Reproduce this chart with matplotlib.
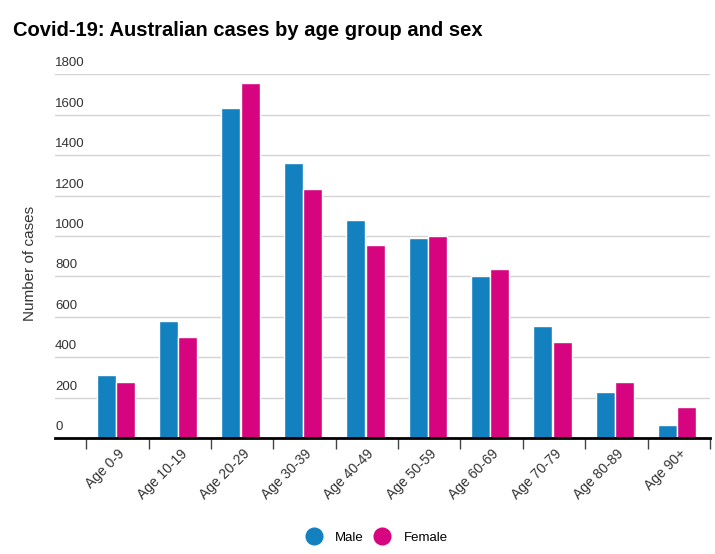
import matplotlib
matplotlib.use('Agg')
import matplotlib.pyplot as plt
import matplotlib.transforms as mtransforms
from matplotlib.lines import Line2D
import numpy as np

plt.rcParams['font.family'] = ['Liberation Sans', 'DejaVu Sans']

# data
age_groups = ['Age 0-9', 'Age 10-19', 'Age 20-29', 'Age 30-39', 'Age 40-49',
              'Age 50-59', 'Age 60-69', 'Age 70-79', 'Age 80-89', 'Age 90+']
male = [312, 579, 1634, 1363, 1077, 988, 803, 556, 231, 64]
female = [279, 500, 1759, 1231, 955, 1002, 835, 475, 277, 155]
y_ticks = [0, 200, 400, 600, 800, 1000, 1200, 1400, 1600, 1800]

male_col = '#1380c0'
female_col = '#d6047f'

fig = plt.figure(figsize=(7.15, 5.54), dpi=100)
ax = fig.add_axes([0.077, 0.209, 0.916, 0.657])

x = np.arange(len(age_groups))
w = 0.305
ax.bar(x - 0.18, male, width=w, color=male_col, edgecolor='white', linewidth=1.0, zorder=3)
ax.bar(x + 0.13, female, width=w, color=female_col, edgecolor='white', linewidth=1.0, zorder=3)

ax.set_xlim(-1.0, 9.44)
ax.set_ylim(0, 1800)

# grid lines and labels sitting above them
for v in y_ticks:
    if v > 0:
        ax.axhline(v, color='#d3d3d3', lw=1, zorder=1)
trans = mtransforms.blended_transform_factory(ax.transAxes, ax.transData)
for v in y_ticks:
    ax.text(0.0, v + 25, str(v), transform=trans, ha='left', va='bottom',
            fontsize=9.5, color='#333333')
ax.set_yticks([])

# ticks at category boundaries, labels at centres
ax.set_xticks(np.arange(-0.5, len(age_groups), 1.0))
ax.set_xticklabels([])
ax.tick_params(axis='x', which='major', length=8, width=1, color='#444444', direction='out')
ax.set_xticks(x, minor=True)
ax.set_xticklabels(age_groups, minor=True, rotation=45, ha='right',
                   rotation_mode='anchor', fontsize=10, color='#333333')
ax.tick_params(axis='x', which='minor', length=0, pad=6)

for s in ['top', 'right', 'left']:
    ax.spines[s].set_visible(False)
ax.spines['bottom'].set_color('black')
ax.spines['bottom'].set_linewidth(2)
ax.spines['bottom'].set_zorder(4)

fig.text(0.042, 0.525, 'Number of cases', rotation=90, ha='center', va='center',
         fontsize=11, color='#333333')

fig.text(0.018, 0.945, 'Covid-19: Australian cases by age group and sex',
         fontsize=14.5, fontweight='bold', ha='left', va='center', color='black')

handles = [Line2D([], [], marker='o', ls='', markersize=12, color=male_col, label='Male'),
           Line2D([], [], marker='o', ls='', markersize=12, color=female_col, label='Female')]
fig.legend(handles=handles, loc='center', bbox_to_anchor=(0.527, 0.029), ncol=2,
           frameon=False, fontsize=9.5, handletextpad=1.0, columnspacing=0.8,
           handlelength=1.2)

fig.savefig('out.png', dpi=100, facecolor='white')
